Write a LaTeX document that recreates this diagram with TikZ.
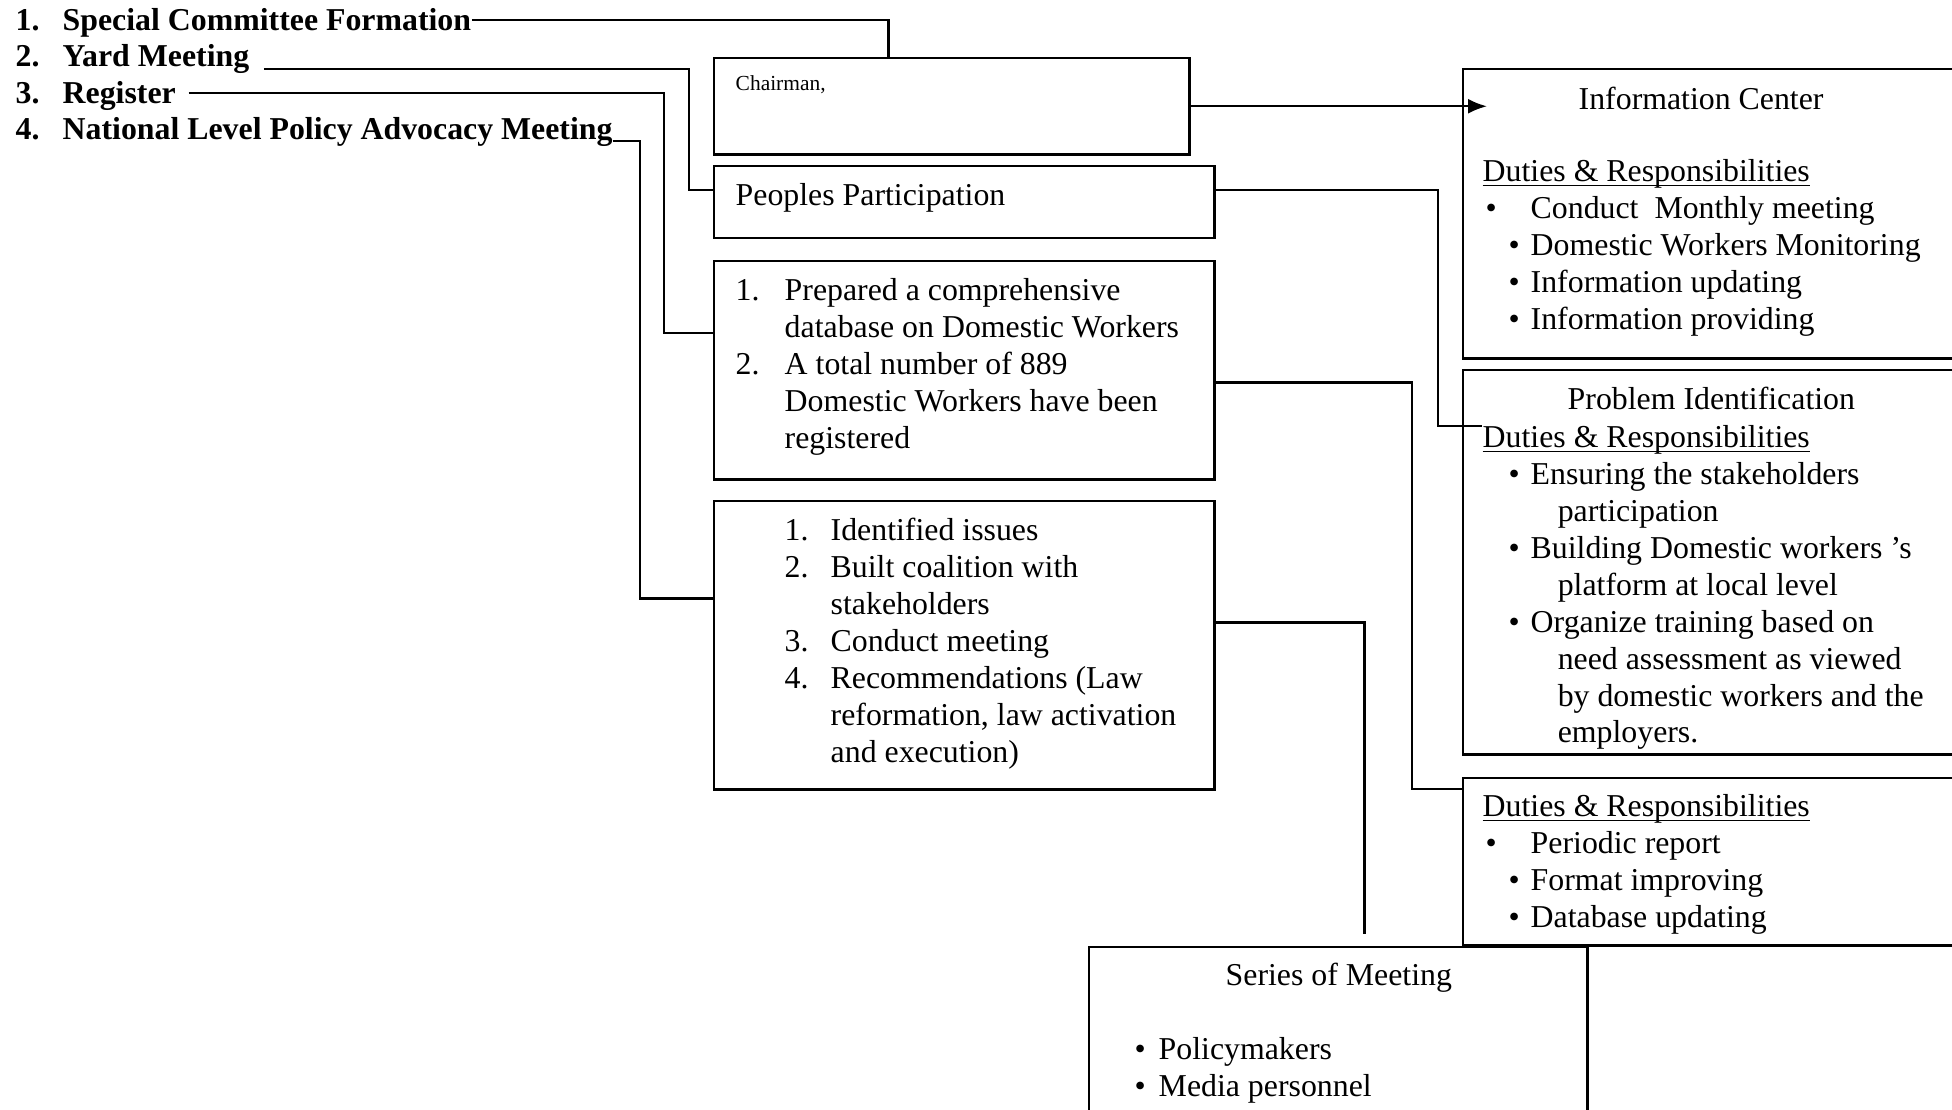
\documentclass[tikz,border=0pt]{standalone}
\usepackage{fontspec}
\setmainfont{Liberation Serif}
\usetikzlibrary{arrows.meta}

\newcommand{\dutyul}[1]{\setbox0\hbox{#1}\rlap{\rule[-1.3pt]{\wd0}{0.45pt}}#1}
\newcommand{\bul}{\hspace*{2.6mm}\makebox[2.2mm][l]{\textbullet}}
\newcommand{\firstbul}{\makebox[4.8mm][l]{\hspace*{0.3mm}\textbullet}}

\begin{document}
\begin{tikzpicture}[x=0.01cm, y=-0.01cm]
        \tikzset{box style/.style={draw, line width=0.7pt, rectangle, anchor=north west, inner sep=0pt}}
        \tikzset{line style/.style={line width=0.7pt}}
        \tikzset{text style/.style={anchor=north west, inner sep=0pt, align=left, font=\fontsize{9.05}{10.5}\selectfont}}
        \tikzset{title style/.style={anchor=base west, inner sep=0pt, font=\fontsize{9.05}{10.5}\selectfont}}
        \tikzset{list style/.style={anchor=base west, inner sep=0pt, font=\fontsize{9.05}{10.5}\selectfont\bfseries}}

        \useasboundingbox (0,0) rectangle (1952,1110);
        \clip (0,0) rectangle (1952,1110);

        % left list
        \node[list style] (form) at (15,30.5) {\makebox[4.7mm][l]{1.}Special Committee Formation};
        \node[list style] (yard) at (15,67) {\makebox[4.7mm][l]{2.}Yard Meeting};
        \node[list style] (reg) at (15,103.5) {\makebox[4.7mm][l]{3.}Register};
        \node[list style] (nat) at (15,140) {\makebox[4.7mm][l]{4.}National Level Policy Advocacy Meeting};

        % middle boxes
        \node[box style, minimum width=4.75cm, minimum height=0.96cm] (chair) at (713,57) {};
        \node[box style, minimum width=5cm, minimum height=0.72cm] (peop) at (713,165) {};
        \node[box style, minimum width=5cm, minimum height=2.18cm] (dbase) at (713,260) {};
        \node[box style, minimum width=5cm, minimum height=2.88cm] (iss) at (713,500) {};

        \node[anchor=base west, inner sep=0pt, font=\fontsize{6.1}{7}\selectfont] (chairtxt) at (735,91) {Chairman,};
        \node[title style] (peoptxt) at (735,205.5) {Peoples Participation};
        \node[text style] (dbasetxt) at (735,274) {\strut\makebox[4.9mm][l]{1.}Prepared a comprehensive\\
            \hspace*{4.9mm}database on Domestic Workers\\
            \makebox[4.9mm][l]{2.}A total number of 889\\
            \hspace*{4.9mm}Domestic Workers have been\\
            \hspace*{4.9mm}registered};
        \node[text style] (isstxt) at (784,514) {\strut\makebox[4.6mm][l]{1.}Identified issues\\
            \makebox[4.6mm][l]{2.}Built coalition with\\
            \hspace*{4.6mm}stakeholders\\
            \makebox[4.6mm][l]{3.}Conduct meeting\\
            \makebox[4.6mm][l]{4.}Recommendations (Law\\
            \hspace*{4.6mm}reformation, law activation\\
            \hspace*{4.6mm}and execution)};

        % right boxes
        \node[box style, minimum width=6cm, minimum height=2.89cm] (info) at (1462,68) {};
        \node[box style, minimum width=6cm, minimum height=3.84cm] (prob) at (1462,369) {};
        \node[box style, minimum width=6cm, minimum height=1.67cm] (rep) at (1462,777) {};
        \node[box style, minimum width=4.98cm, minimum height=2cm] (meet) at (1088,946) {};

        \node[title style] (infotitle) at (1578,109.5) {Information Center};
        \node[text style] (infoduty) at (1482,155) {\strut\dutyul{Duties \& Responsibilities}\\
            \firstbul Conduct\ \ Monthly meeting\\
            \bul Domestic Workers Monitoring\\
            \bul Information updating\\
            \bul Information providing};

        \node[title style] (probtitle) at (1567,410) {Problem Identification};
        \node[text style] (probduty) at (1482,421) {\strut\dutyul{Duties \& Responsibilities}\\
            \bul Ensuring the stakeholders\\
            \hspace*{7.5mm}participation\\
            \bul Building Domestic workers ’s\\
            \hspace*{7.5mm}platform at local level\\
            \bul Organize training based on\\
            \hspace*{7.5mm}need assessment as viewed\\
            \hspace*{7.5mm}by domestic workers and the\\
            \hspace*{7.5mm}employers.};

        \node[text style] (repduty) at (1482,790) {\strut\dutyul{Duties \& Responsibilities}\\
            \firstbul Periodic report\\
            \bul Format improving\\
            \bul Database updating};

        \node[title style] (meettitle) at (1225,985) {Series of Meeting};
        \node[text style] (meettxt) at (1134,1033) {\strut\makebox[2.4mm][l]{\textbullet}Policymakers\\
            \makebox[2.4mm][l]{\textbullet}Media personnel};

        % connectors
        \draw[line style] ([yshift=1.05mm]form.base east) -| ([xshift=-6.35mm]chair.north);
        \draw[line style] ([xshift=1.4mm,yshift=-0.2mm]yard.base east) -| ([xshift=-2.4mm,yshift=1.2mm]peop.west) -- ([yshift=1.2mm]peop.west);
        \draw[line style] ([xshift=1.2mm,yshift=1.05mm]reg.base east) -| ([xshift=-4.9mm,yshift=3.7mm]dbase.west) -- ([yshift=3.7mm]dbase.west);
        \draw[line style] ([yshift=-0.1mm]nat.base east) -| ([xshift=-7.3mm,yshift=4.7mm]iss.west) -- ([yshift=4.7mm]iss.west);

        \coordinate (tip) at (chair.east -| infoduty.west);
        \draw[line style, -{Latex[length=1.9mm,width=1.5mm]}] (chair.east) -- ([xshift=0.5mm]tip);
        \draw[line style] ([yshift=1.2mm]peop.east) -| ([xshift=-4.4mm,yshift=-0.5mm]probduty.north west) -- ([yshift=-0.5mm]probduty.north west);
        \draw[line style] ([yshift=-1.2mm]dbase.east) -| ([xshift=-5mm,yshift=7.25mm]rep.west) -- ([yshift=7.25mm]rep.west);
        \draw[line style] ([yshift=2.3mm]iss.east) -| ([xshift=2.6mm,yshift=1.2mm]meet.north);
    \end{tikzpicture}
\end{document}
